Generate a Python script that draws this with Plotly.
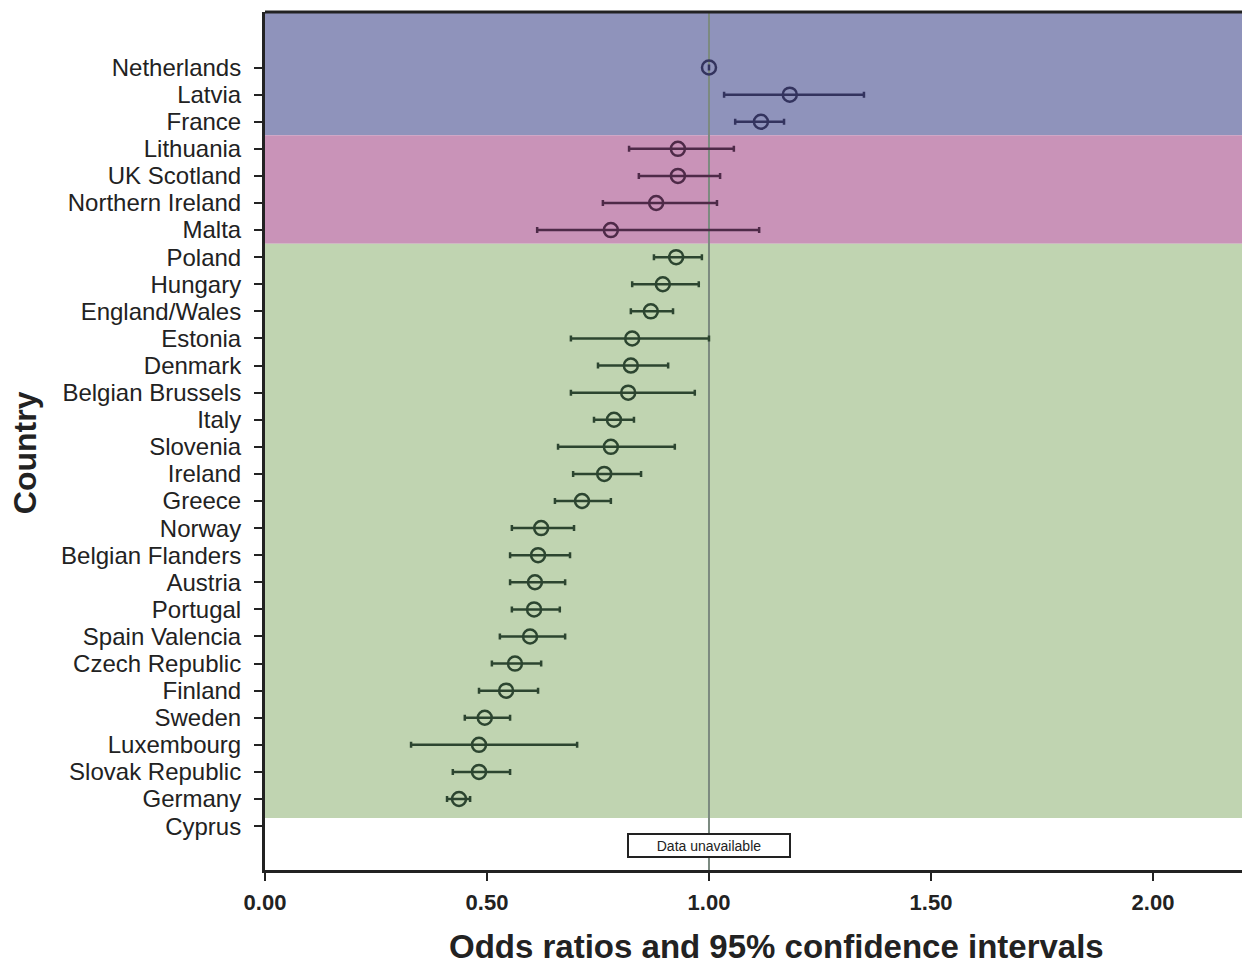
import plotly.graph_objects as go

countries = ["Netherlands", "Latvia", "France", "Lithuania", "UK Scotland", "Northern Ireland",
             "Malta", "Poland", "Hungary", "England/Wales", "Estonia", "Denmark",
             "Belgian Brussels", "Italy", "Slovenia", "Ireland", "Greece", "Norway",
             "Belgian Flanders", "Austria", "Portugal", "Spain Valencia", "Czech Republic",
             "Finland", "Sweden", "Luxembourg", "Slovak Republic", "Germany", "Cyprus"]
odds = [1.00, 1.182, 1.117, 0.930, 0.930, 0.881, 0.779, 0.926, 0.896, 0.869, 0.827, 0.824,
        0.818, 0.786, 0.779, 0.764, 0.714, 0.622, 0.615, 0.608, 0.606, 0.597, 0.563,
        0.543, 0.495, 0.482, 0.482, 0.437, None]
ci_low = [1.00, 1.034, 1.059, 0.820, 0.842, 0.761, 0.613, 0.876, 0.827, 0.824, 0.689, 0.750,
          0.689, 0.741, 0.660, 0.694, 0.653, 0.556, 0.552, 0.552, 0.556, 0.529, 0.511,
          0.482, 0.450, 0.329, 0.423, 0.410, None]
ci_high = [1.00, 1.349, 1.169, 1.056, 1.025, 1.018, 1.113, 0.984, 0.977, 0.919, 1.000, 0.908,
           0.968, 0.831, 0.923, 0.847, 0.779, 0.696, 0.687, 0.676, 0.664, 0.676, 0.622,
           0.615, 0.552, 0.703, 0.552, 0.462, None]
groups = ["blue"] * 3 + ["pink"] * 4 + ["green"] * 21 + ["none"]
x_ticks = [0.0, 0.5, 1.0, 1.5, 2.0]
x_tick_labels = ["0.00", "0.50", "1.00", "1.50", "2.00"]

group_style = {
    "blue": {"band": "#8f93bb", "mark": "#33335e"},
    "pink": {"band": "#c993b8", "mark": "#4e2a48"},
    "green": {"band": "#c0d4b1", "mark": "#2c4530"},
}

n = len(countries)
fig = go.Figure()

# Background bands
band_ranges = {"blue": (-2.05, 2.5), "pink": (2.5, 6.5), "green": (6.5, 27.7)}
for g, (y0, y1) in band_ranges.items():
    fig.add_shape(type="rect", xref="paper", yref="y", x0=0, x1=1, y0=y0, y1=y1,
                  fillcolor=group_style[g]["band"], line=dict(width=0), layer="below")

# Reference line at 1
fig.add_shape(type="line", xref="x", yref="paper", x0=1, x1=1, y0=0, y1=1,
              line=dict(color="#7c8a80", width=2), layer="below")

for g in ["blue", "pink", "green"]:
    idx = [i for i in range(n) if groups[i] == g and odds[i] is not None]
    xs = [odds[i] for i in idx]
    ys = [i for i in idx]
    plus = [ci_high[i] - odds[i] for i in idx]
    minus = [odds[i] - ci_low[i] for i in idx]
    col = group_style[g]["mark"]
    fig.add_trace(go.Scatter(
        x=xs, y=ys, mode="markers",
        marker=dict(symbol="circle-open", size=14, color=col, line=dict(width=2.5, color=col)),
        error_x=dict(type="data", array=plus, arrayminus=minus, color=col,
                     thickness=2.5, width=3, visible=True),
        showlegend=False, hoverinfo="skip"))

# Data unavailable note
fig.add_annotation(x=1.0, y=28.7, xref="x", yref="y", text="Data unavailable",
                   showarrow=False, font=dict(family="Liberation Sans, Arial", size=14, color="#222"),
                   width=156, height=17,
                   bordercolor="#222", borderwidth=2, borderpad=2, bgcolor="white")

# Axis titles
fig.add_annotation(x=0.52, y=-0.0886, xref="paper", yref="paper", yanchor="middle",
                   text="<b>Odds ratios and 95% confidence intervals</b>", showarrow=False,
                   font=dict(family="Liberation Sans, Arial", size=33, color="#222"))
fig.add_annotation(x=-0.244, y=0.486, xref="paper", yref="paper", xanchor="center",
                   yanchor="middle", textangle=-90,
                   text="<b>Country</b>", showarrow=False,
                   font=dict(family="Liberation Sans, Arial", size=32, color="#222"))

# Top and right border
fig.add_shape(type="line", xref="paper", yref="paper", x0=0, x1=1, y0=1, y1=1,
              line=dict(color="#222", width=3))
fig.add_shape(type="line", xref="paper", yref="paper", x0=1, x1=1, y0=0, y1=1,
              line=dict(color="#888", width=1))

fig.update_layout(
    width=1242, height=958,
    margin=dict(l=257, r=2, t=4, b=96),
    paper_bgcolor="white", plot_bgcolor="white",
    font=dict(family="Liberation Sans, Arial", color="#222"),
    xaxis=dict(range=[0, 2.214], tickvals=x_ticks, ticktext=[f"<b>{t}</b>" for t in x_tick_labels],
               tickfont=dict(size=22), showgrid=False, zeroline=False,
               showline=True, linecolor="#222", linewidth=3, ticks="outside", ticklen=8,
               tickwidth=2, tickcolor="#222", ticklabelstandoff=3),
    yaxis=dict(range=[29.62, -2.05], tickvals=list(range(n)), ticktext=countries,
               tickfont=dict(size=24), showgrid=False, zeroline=False,
               showline=True, linecolor="#222", linewidth=3, ticks="outside", ticklen=8,
               tickwidth=2, tickcolor="#222", ticklabelstandoff=8),
)

fig.write_html("out.html")
